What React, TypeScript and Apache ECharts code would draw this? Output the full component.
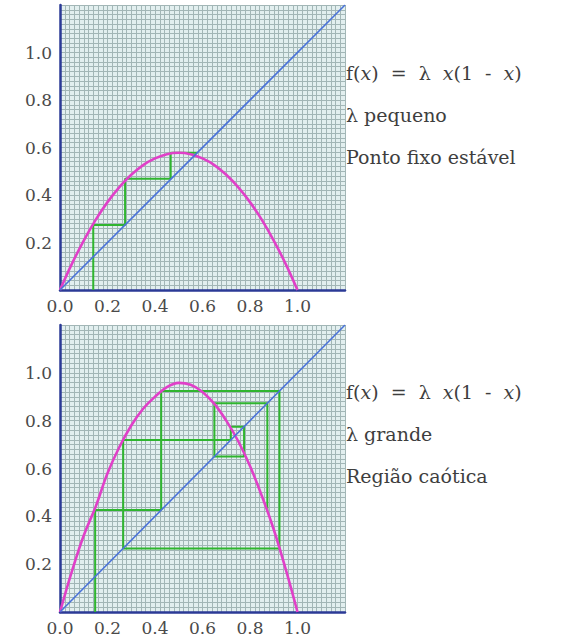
import React, { useEffect, useRef } from "react";
import * as echarts from "echarts";

// Curve samples (x, f(x))
const curveX = [0, 0.05, 0.1, 0.15, 0.2, 0.25, 0.3, 0.35, 0.4, 0.45, 0.5, 0.55, 0.6, 0.65, 0.7, 0.75, 0.8, 0.85, 0.9, 0.95, 1.0];
const curveTopY = [0, 0.11, 0.208, 0.295, 0.37, 0.433, 0.485, 0.526, 0.554, 0.572, 0.578, 0.572, 0.554, 0.526, 0.485, 0.433, 0.37, 0.295, 0.208, 0.11, 0];
const curveBottomY = [0, 0.17, 0.32, 0.44, 0.58, 0.69, 0.78, 0.85, 0.9, 0.94, 0.958, 0.95, 0.92, 0.87, 0.8, 0.715, 0.61, 0.485, 0.345, 0.18, 0];

// Diagonal y = x
const diagX = [0, 1.2];
const diagY = [0, 1.2];

// Cobweb paths
const cobTopX = [0.14, 0.14, 0.274, 0.274, 0.466, 0.466, 0.578];
const cobTopY = [0, 0.274, 0.274, 0.468, 0.468, 0.578, 0.578];
const cobBottomX = [0.148, 0.148, 0.426, 0.426, 0.924, 0.924, 0.266, 0.266, 0.719, 0.719, 0.775, 0.775, 0.65, 0.65, 0.873, 0.873];
const cobBottomY = [0, 0.426, 0.426, 0.924, 0.924, 0.266, 0.266, 0.719, 0.719, 0.775, 0.775, 0.65, 0.65, 0.873, 0.873, 0.42];

// Tick settings
const axisMin = 0;
const axisMax = 1.2;
const axisInterval = 0.2;

// Captions
const topCaption = ["λ pequeno", "Ponto fixo estável"];
const bottomCaption = ["λ grande", "Região caótica"];

const zip = (xs: number[], ys: number[]) => xs.map((x, i) => [x, ys[i]]);

const FONT = "DejaVu Serif";
const GRID_BG = "#e2efef";
const GRID_LINE = "#a2b6b6";
const AXIS_BLUE = "#2b3a96";
const TEXT = "#3e3e3e";
const CAP_SIZE = 19;

function makeX(gridIndex: number) {
  return {
    type: "value",
    gridIndex,
    min: axisMin,
    max: axisMax,
    interval: axisInterval,
    axisLine: { show: true, onZero: false, lineStyle: { color: AXIS_BLUE, width: 2.5 } },
    axisTick: { show: false },
    axisLabel: {
      margin: 7,
      fontFamily: FONT,
      fontSize: 17,
      color: "#4a4a4a",
      formatter: (v: number) => (v > 1.01 ? "" : v.toFixed(1)),
    },
    splitLine: { show: true, lineStyle: { color: GRID_LINE, width: 1 } },
    minorTick: { show: false, splitNumber: 10 },
    minorSplitLine: { show: true, lineStyle: { color: GRID_LINE, width: 1 } },
  };
}

function makeY(gridIndex: number) {
  return {
    type: "value",
    gridIndex,
    min: axisMin,
    max: axisMax,
    interval: axisInterval,
    axisLine: { show: true, onZero: false, lineStyle: { color: AXIS_BLUE, width: 2.5 } },
    axisTick: { show: false },
    axisLabel: {
      margin: 8,
      fontFamily: FONT,
      fontSize: 17,
      color: "#4a4a4a",
      formatter: (v: number) => (v < 0.01 || v > 1.01 ? "" : v.toFixed(1)),
    },
    splitLine: { show: true, lineStyle: { color: GRID_LINE, width: 1 } },
    minorTick: { show: false, splitNumber: 10 },
    minorSplitLine: { show: true, lineStyle: { color: GRID_LINE, width: 1 } },
  };
}

function seriesFor(idx: number, curveY: number[], cobX: number[], cobY: number[]) {
  return [
    {
      type: "line",
      xAxisIndex: idx,
      yAxisIndex: idx,
      data: zip(cobX, cobY),
      showSymbol: false,
      lineStyle: { color: "#2fb52f", width: 2 },
      z: 2,
    },
    {
      type: "line",
      xAxisIndex: idx,
      yAxisIndex: idx,
      data: zip(curveX, curveY),
      smooth: 0.4,
      showSymbol: false,
      lineStyle: { color: "#e040c8", width: 2.6 },
      z: 3,
    },
    {
      type: "line",
      xAxisIndex: idx,
      yAxisIndex: idx,
      data: zip(diagX, diagY),
      showSymbol: false,
      lineStyle: { color: "#4a72d8", width: 1.6 },
      z: 4,
    },
  ];
}

const formulaText = "{a|f(}{i|x}{a|)  =  λ  }{i|x}{a|(1  -  }{i|x}{a|)}";
const richStyles = {
  a: { fontFamily: FONT, fontSize: CAP_SIZE, fill: TEXT },
  i: { fontFamily: FONT, fontSize: CAP_SIZE, fontStyle: "italic", fill: TEXT },
};

function captionGraphics(y0: number, lines: string[]) {
  return [
    {
      type: "text",
      left: 346,
      top: y0 - 10,
      style: { text: formulaText, rich: richStyles, fill: TEXT, fontFamily: FONT, fontSize: CAP_SIZE },
    },
    {
      type: "text",
      left: 346,
      top: y0 + 32,
      style: { text: lines[0], fill: TEXT, fontFamily: FONT, fontSize: CAP_SIZE },
    },
    {
      type: "text",
      left: 346,
      top: y0 + 74,
      style: { text: lines[1], fill: TEXT, fontFamily: FONT, fontSize: CAP_SIZE },
    },
  ];
}

export default function App() {
  const ref = useRef<HTMLDivElement>(null);
  useEffect(() => {
    if (!ref.current) return;
    const chart = echarts.init(ref.current, null, { renderer: "svg" });
    chart.setOption({
      animation: false,
      backgroundColor: "#ffffff",
      grid: [
        { left: 60, top: 5, width: 285, height: 285, show: true, backgroundColor: GRID_BG, borderWidth: 0 },
        { left: 60, top: 325, width: 285, height: 287, show: true, backgroundColor: GRID_BG, borderWidth: 0 },
      ],
      xAxis: [makeX(0), makeX(1)],
      yAxis: [makeY(0), makeY(1)],
      series: [
        ...seriesFor(0, curveTopY, cobTopX, cobTopY),
        ...seriesFor(1, curveBottomY, cobBottomX, cobBottomY),
      ],
      graphic: [...captionGraphics(73, topCaption), ...captionGraphics(392, bottomCaption)],
    });
    return () => chart.dispose();
  }, []);
  return (
    <div
      ref={ref}
      style={{ position: "absolute", left: 0, top: 0, width: 561, height: 639 }}
    />
  );
}
